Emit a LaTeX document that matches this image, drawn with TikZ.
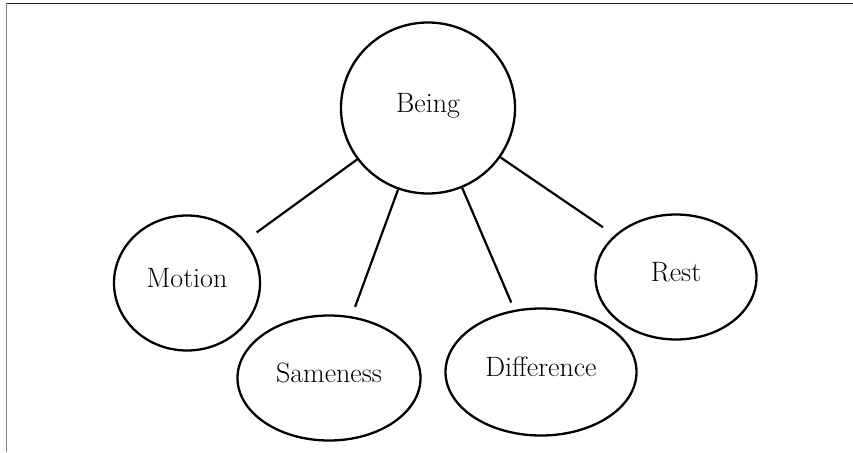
\documentclass[tikz,border=0pt]{standalone}
\usetikzlibrary{shapes.geometric}
\tikzset{
  concept/.style={draw=black, line width=2.3pt, ellipse, inner sep=0pt,
    text height=0.9em, text depth=0pt, font=\fontsize{28}{33}\selectfont},
  link/.style={draw=black, line width=2.2pt},
}
\begin{document}
\begin{tikzpicture}[x=1pt, y=-1pt]
\useasboundingbox (0,0) rectangle (853,452);
\draw[line width=1.4pt, draw=black!85] (6,3.3) -- (853,3.3);
\draw[line width=1.4pt, draw=black!50] (6.7,2.6) -- (6.7,452);
\node[concept, minimum width=174pt, minimum height=171pt] (being) at (428,108) {Being};
\node[concept, minimum width=146pt, minimum height=135pt] (motion) at (187,283) {Motion};
\node[concept, minimum width=183pt, minimum height=125pt] (same) at (329,378) {Sameness};
\node[concept, minimum width=191pt, minimum height=127pt] (diff) at (541,372) {Difference};
\node[concept, minimum width=161pt, minimum height=125pt] (rest) at (676,277) {Rest};
\draw[link, shorten >=14pt] (being) -- (motion);
\draw[link, shorten >=10pt] (being) -- (same);
\draw[link, shorten >=8pt] (being) -- (diff);
\draw[link, shorten >=14pt] (being) -- (rest);
\end{tikzpicture}
\end{document}
